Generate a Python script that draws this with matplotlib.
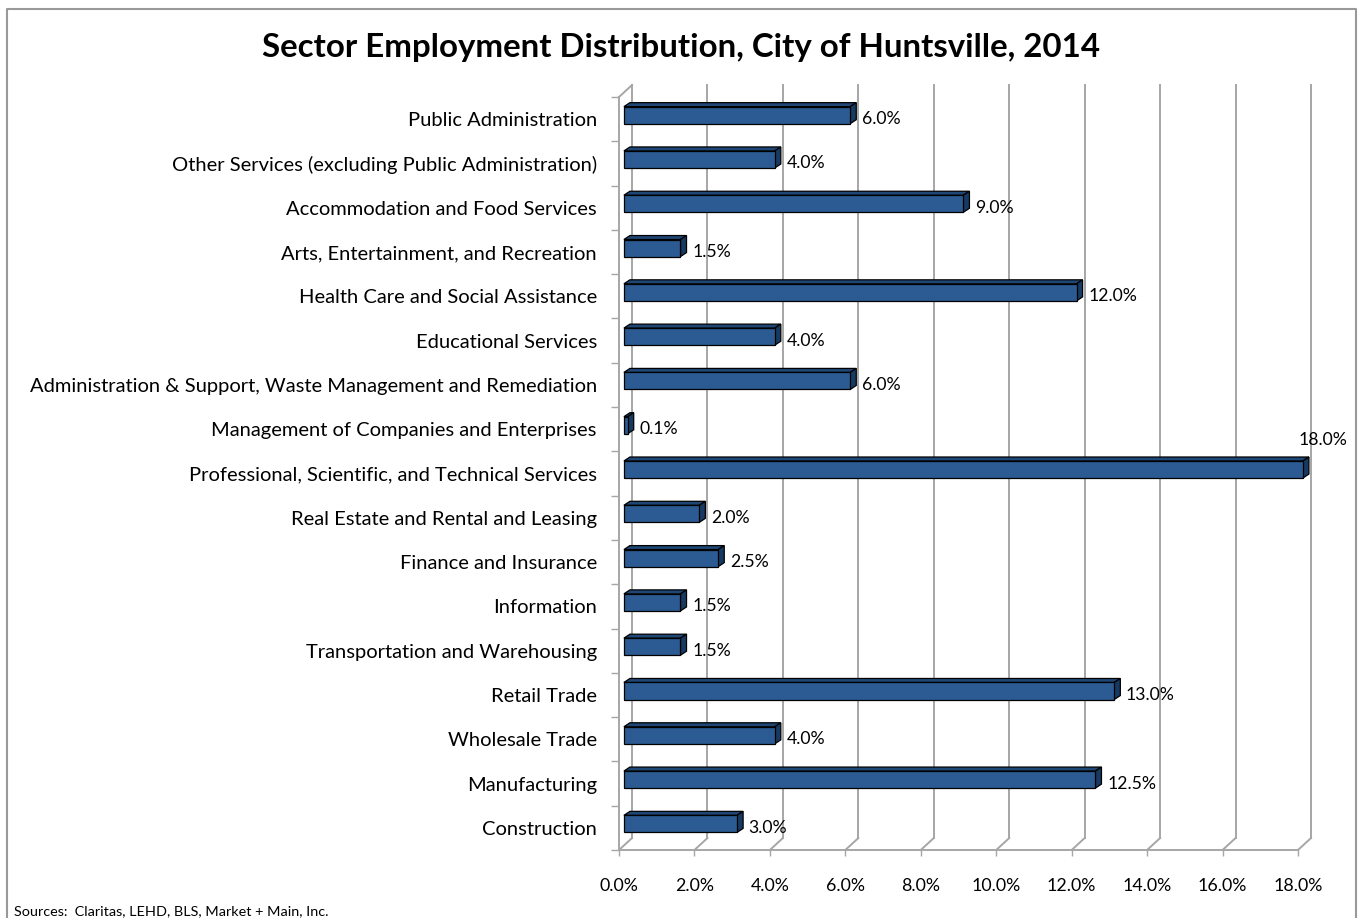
import matplotlib.pyplot as plt
from matplotlib.patches import Polygon

sectors = [
    "Construction",
    "Manufacturing",
    "Wholesale Trade",
    "Retail Trade",
    "Transportation and Warehousing",
    "Information",
    "Finance and Insurance",
    "Real Estate and Rental and Leasing",
    "Professional, Scientific, and Technical Services",
    "Management of Companies and Enterprises",
    "Administration & Support, Waste Management and Remediation",
    "Educational Services",
    "Health Care and Social Assistance",
    "Arts, Entertainment, and Recreation",
    "Accommodation and Food Services",
    "Other Services (excluding Public Administration)",
    "Public Administration",
]
shares = [3.0, 12.5, 4.0, 13.0, 1.5, 1.5, 2.5, 2.0, 18.0, 0.1, 6.0, 4.0, 12.0, 1.5, 9.0, 4.0, 6.0]
xticks = [0, 2, 4, 6, 8, 10, 12, 14, 16, 18]

plt.rcParams['font.family'] = ['Lato', 'DejaVu Sans']

W, H = 1359, 918
fig = plt.figure(figsize=(W / 100, H / 100), dpi=100)
ax = fig.add_axes([619 / W, 68 / H, (1298 - 619) / W, (850 - 97) / H])
n = len(sectors)
ax.set_xlim(0, 18)
ax.set_ylim(-0.5, n - 0.5)
for s in ax.spines.values():
    s.set_visible(False)

grid = '#a6a6a6'
# depth of the back wall and of the bars (data units)
dx, dy = 0.345, 0.27
sx, sy = 0.13, 0.09
bdx, bdy = 0.16, 0.09
bh = 0.385

# back wall, floor and left wall
for v in xticks:
    ax.plot([v + dx, v + dx], [-0.5 + dy, n - 0.5 + dy], color=grid, lw=1.4, clip_on=False, zorder=1)
    ax.plot([v, v + dx], [-0.5, -0.5 + dy], color=grid, lw=1.4, clip_on=False, zorder=1)
ax.plot([0, 0], [-0.5, n - 0.5], color=grid, lw=1.4, clip_on=False, zorder=1)
ax.plot([0, dx], [n - 0.5, n - 0.5 + dy], color=grid, lw=1.4, clip_on=False, zorder=1)
ax.plot([0, 18], [-0.5, -0.5], color=grid, lw=1.4, clip_on=False, zorder=1)

face = '#2B5B92'
top = '#1F4776'
side = '#173A63'
for i, v in enumerate(shares):
    y0 = i + sy - bh / 2
    y1 = i + sy + bh / 2
    x0, x1 = sx, v + sx
    ax.add_patch(Polygon([(x0, y1), (x1, y1), (x1 + bdx, y1 + bdy), (x0 + bdx, y1 + bdy)],
                         closed=True, fc=top, ec='black', lw=0.9, zorder=3, clip_on=False))
    ax.add_patch(Polygon([(x1, y0), (x1 + bdx, y0 + bdy), (x1 + bdx, y1 + bdy), (x1, y1)],
                         closed=True, fc=side, ec='black', lw=0.9, zorder=3, clip_on=False))
    ax.add_patch(Polygon([(x0, y0), (x1, y0), (x1, y1), (x0, y1)],
                         closed=True, fc=face, ec='black', lw=0.9, zorder=4, clip_on=False))
    if v >= 18:
        ax.text(v + 0.66, i + 0.75, f"{v:.1f}%", ha='center', va='center', fontsize=12.7, zorder=5)
    else:
        ax.text(v + 0.44, i, f"{v:.1f}%", ha='left', va='center', fontsize=12.7, zorder=5)

ax.set_xticks(xticks)
ax.set_xticklabels([f"{t:.1f}%" for t in xticks], fontsize=12.8)
ax.tick_params(axis='x', length=4, width=1, color=grid, pad=16)
ax.set_yticks(range(n))
ax.set_yticklabels(sectors, fontsize=14.5)
for lab in ax.get_yticklabels():
    lab.set_va('center_baseline')
ax.set_yticks([k - 0.5 for k in range(n + 1)], minor=True)
ax.tick_params(axis='y', which='major', length=0, pad=16)
ax.tick_params(axis='y', which='minor', length=6, width=1, color=grid)

fig.text(681 / W, 1 - 47 / H, "Sector Employment Distribution, City of Huntsville, 2014",
         ha='center', va='center', fontsize=23.8, fontweight='bold')
fig.text(14 / W, 1 / H, "Sources:  Claritas, LEHD, BLS, Market + Main, Inc.",
         ha='left', va='bottom', fontsize=10.4)

# chart border
fig.add_artist(plt.Line2D([7 / W, 7 / W, 1356 / W, 1356 / W], [0, 1 - 8.5 / H, 1 - 8.5 / H, 0],
                          transform=fig.transFigure, color='#999999', lw=1.5))

fig.savefig("out.png", dpi=100)
